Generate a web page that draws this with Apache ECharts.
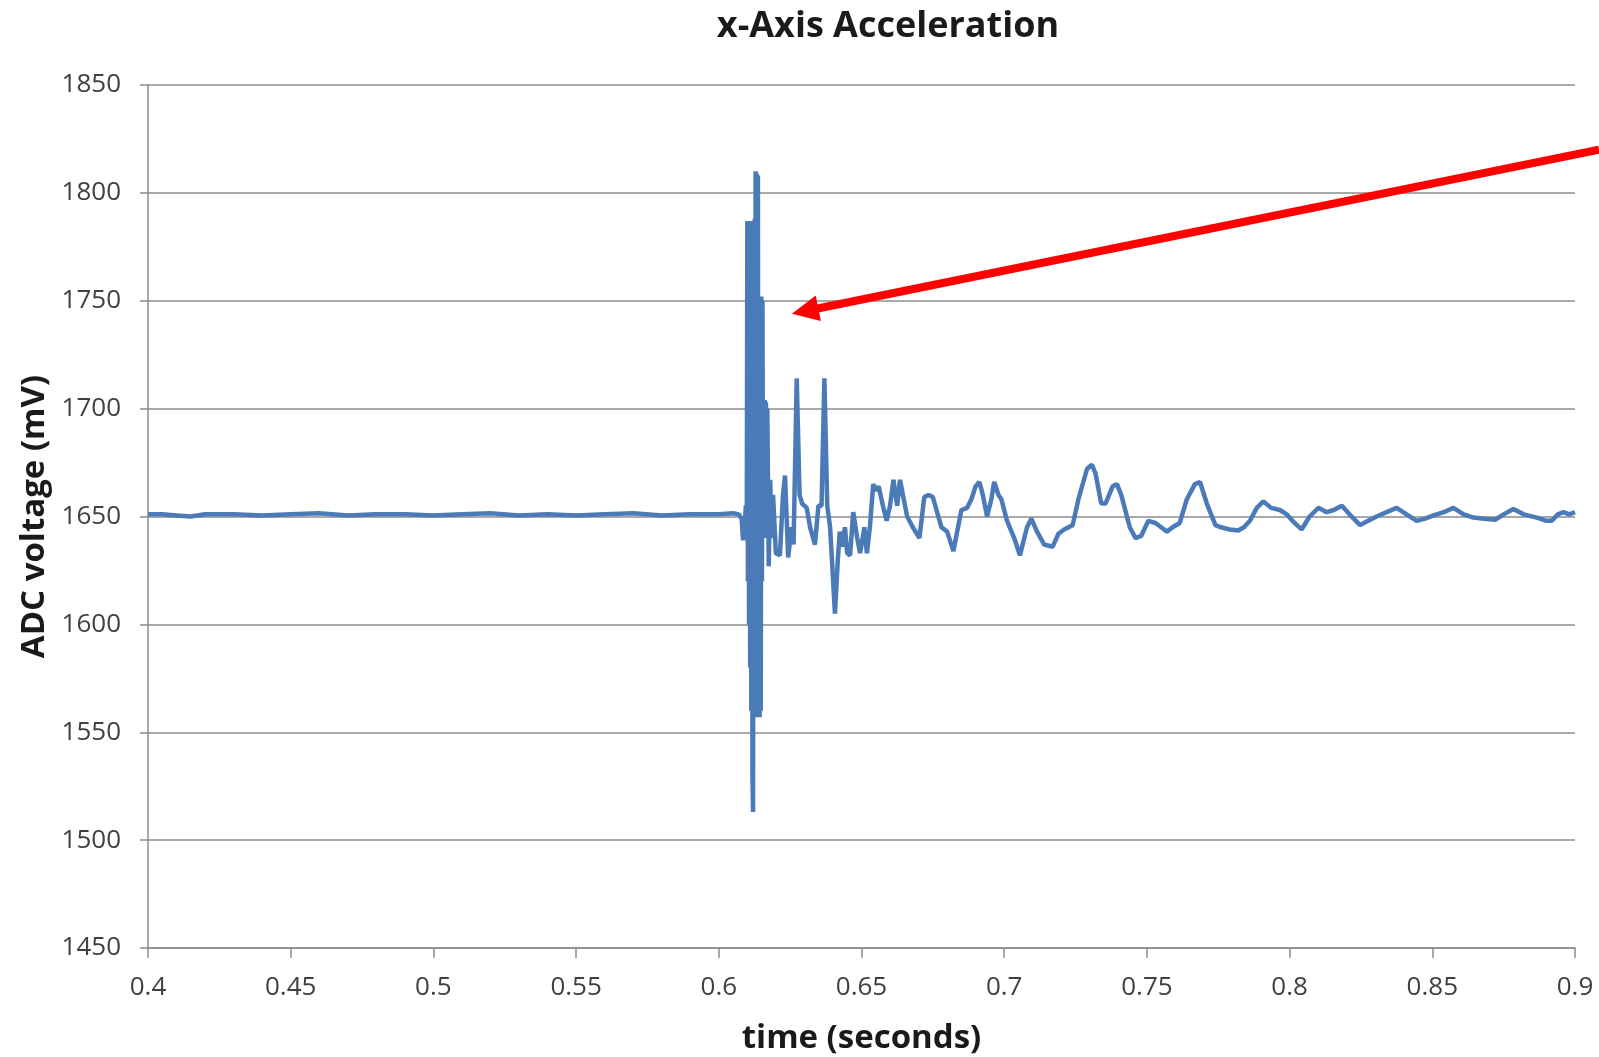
<!DOCTYPE html>
<html>
<head>
<meta charset="utf-8">
<title>x-Axis Acceleration</title>
<script src="https://cdn.jsdelivr.net/npm/echarts@6/dist/echarts.min.js"></script>
<style>
  html, body { margin: 0; padding: 0; background: #fff; }
  #main { width: 1599px; height: 1057px; }
</style>
</head>
<body>
<div id="main"></div>
<script>
// time (s) and ADC reading (mV)
var timeSec = [
    0.400, 0.405, 0.410, 0.415, 0.420, 0.430, 0.440, 0.450, 0.460, 0.470,
    0.480, 0.490, 0.500, 0.510, 0.520, 0.530, 0.540, 0.550, 0.560, 0.570,
    0.580, 0.590, 0.600, 0.605,
    // burst
    0.6070, 0.6080, 0.6085, 0.6090, 0.6095, 0.6098, 0.6100, 0.6102, 0.6104, 0.6106,
    0.6108, 0.6110, 0.6112, 0.6114, 0.6116, 0.6118, 0.6120, 0.6122, 0.6124, 0.6126,
    0.6128, 0.6129, 0.6131, 0.6133, 0.6135, 0.6137, 0.6139, 0.6141, 0.6143, 0.6145,
    0.6147, 0.6149, 0.6151, 0.6153, 0.6155, 0.6157, 0.6159, 0.6161, 0.6163, 0.6165,
    0.6167, 0.6170, 0.6175, 0.6180, 0.6185, 0.6190, 0.6200, 0.6214, 0.6225, 0.6232,
    0.6243, 0.6255, 0.6262, 0.6273, 0.6283, 0.6292, 0.6308, 0.6320, 0.6337, 0.6349,
    0.6360, 0.6370, 0.6380, 0.6390, 0.6407, 0.6417, 0.6424, 0.6432, 0.6442, 0.6450,
    0.6460, 0.6471,
    // ringing
    0.6485, 0.6495, 0.6510, 0.6519, 0.6530, 0.6541, 0.6552, 0.6560, 0.6575, 0.6588,
    0.6600, 0.6612, 0.6625, 0.6635, 0.6645, 0.6660, 0.6680, 0.6703, 0.6720, 0.6735,
    0.6750, 0.6780, 0.6800, 0.6822, 0.6850, 0.6870, 0.6885, 0.6900, 0.6913, 0.6925,
    0.6940, 0.6955, 0.6965, 0.6980, 0.6990, 0.7010, 0.7035, 0.7055, 0.7080, 0.7095,
    0.7115, 0.7140, 0.7170, 0.7190, 0.7210, 0.7240, 0.7260, 0.7290, 0.7307, 0.7320,
    0.7340, 0.7355, 0.7380, 0.7395, 0.7410, 0.7440, 0.7460, 0.7480, 0.7505, 0.7530,
    0.7550, 0.7570, 0.7590, 0.7615, 0.7640, 0.7668, 0.7686, 0.7710, 0.7740, 0.7760,
    0.7790, 0.7820, 0.7840, 0.7861, 0.7885, 0.7908, 0.7935, 0.7966, 0.7990, 0.8010,
    0.8042, 0.8070, 0.8101, 0.8130, 0.8155, 0.8183, 0.8210, 0.8247, 0.8275, 0.8305,
    0.8340, 0.8375, 0.8410, 0.8445, 0.8475, 0.8504, 0.8540, 0.8574, 0.8610, 0.8644,
    0.8680, 0.8720, 0.8750, 0.8784, 0.8820, 0.8866, 0.8900, 0.8918, 0.8940, 0.8959,
    0.8980, 0.9000
];
var adcMv = [
    1651, 1651, 1650.5, 1650, 1651, 1651, 1650.5, 1651, 1651.5, 1650.5,
    1651, 1651, 1650.5, 1651, 1651.5, 1650.5, 1651, 1650.5, 1651, 1651.5,
    1650.5, 1651, 1651, 1651.5,
    1651, 1649, 1639, 1645, 1655, 1640, 1787, 1620, 1786, 1600,
    1786, 1580, 1785, 1560, 1787, 1530, 1513, 1787, 1560, 1788,
    1560, 1810, 1558, 1809, 1557, 1808, 1557, 1752, 1557, 1752,
    1560, 1752, 1620, 1750, 1640, 1704, 1645, 1704, 1640, 1703,
    1640, 1700, 1627, 1667, 1640, 1660, 1633, 1632, 1660, 1669,
    1631, 1645, 1637, 1714, 1660, 1656, 1654, 1645, 1637, 1655,
    1655, 1714, 1655, 1645, 1605, 1630, 1643, 1636, 1645, 1633,
    1632, 1652,
    1640, 1633, 1645, 1633, 1646, 1665, 1662, 1664, 1655, 1648,
    1655, 1667, 1655, 1667, 1660, 1650, 1645, 1640, 1659, 1660,
    1659, 1645, 1643, 1634, 1653, 1654, 1658, 1664, 1666, 1660,
    1650, 1658, 1666, 1660, 1658, 1648, 1640, 1632, 1645, 1649,
    1643, 1637, 1636, 1642, 1644, 1646, 1658, 1672, 1674, 1670,
    1656, 1656, 1664, 1665, 1660, 1645, 1640, 1641, 1648, 1647,
    1645, 1643, 1645, 1647, 1658, 1665, 1666, 1656, 1646, 1645,
    1644, 1643.5, 1645, 1648, 1654, 1657, 1654, 1653, 1651, 1648,
    1644, 1650, 1654, 1652, 1653, 1655, 1651, 1646, 1648, 1650,
    1652, 1654, 1651, 1648, 1649, 1650.5, 1652, 1654, 1651, 1649.5,
    1649, 1648.5, 1651, 1653.5, 1651, 1649.5, 1648, 1648, 1651, 1652,
    1651, 1652
];

// red annotation arrow, in data coordinates (tail, tip)
var arrowTail = [0.9084, 1820];
var arrowTip = [0.6256, 1744];

var seriesData = [];
for (var i = 0; i < timeSec.length; i++) {
    seriesData.push([timeSec[i], adcMv[i]]);
}

var fontName = '"Open Sans", "Liberation Sans", sans-serif';
var gridColor = '#8c8c8c';

var myChart = echarts.init(document.getElementById('main'));

var option = {
    animation: false,
    backgroundColor: '#ffffff',
    title: {
        text: 'x-Axis Acceleration',
        left: 883,
        textAlign: 'center',
        top: 4,
        textStyle: {
            fontFamily: fontName,
            fontWeight: 'bold',
            fontSize: 36,
            color: '#1a1a1a'
        }
    },
    grid: {
        left: 148,
        right: 24,
        top: 85,
        bottom: 109,
        containLabel: false,
        outerBoundsMode: 'none'
    },
    xAxis: {
        type: 'value',
        min: 0.4,
        max: 0.9,
        interval: 0.05,
        name: 'time (seconds)',
        nameLocation: 'middle',
        nameGap: 74,
        nameTextStyle: {
            fontFamily: fontName,
            fontWeight: 'bold',
            fontSize: 33,
            color: '#1a1a1a'
        },
        axisLine: { show: true, lineStyle: { color: gridColor, width: 1.5 } },
        axisTick: { show: true, length: 10, lineStyle: { color: gridColor, width: 1.5 } },
        splitLine: { show: false },
        axisLabel: {
            margin: 27,
            fontFamily: fontName,
            fontSize: 26,
            color: '#404040',
            formatter: function (value) {
                return String(+value.toFixed(2));
            }
        }
    },
    yAxis: {
        type: 'value',
        min: 1450,
        max: 1850,
        interval: 50,
        name: 'ADC voltage (mV)',
        nameLocation: 'middle',
        nameGap: 95,
        nameTextStyle: {
            fontFamily: fontName,
            fontWeight: 'bold',
            fontSize: 33,
            color: '#1a1a1a'
        },
        axisLine: { show: true, lineStyle: { color: gridColor, width: 1.5 } },
        axisTick: { show: true, length: 8, lineStyle: { color: gridColor, width: 1.5 } },
        splitLine: { show: true, lineStyle: { color: gridColor, width: 1.5 } },
        axisLabel: {
            margin: 27,
            fontFamily: fontName,
            fontSize: 26,
            color: '#404040',
            formatter: function (value) {
                return String(value);
            }
        }
    },
    series: [{
        type: 'line',
        data: seriesData,
        showSymbol: false,
        sampling: 'none',
        clip: false,
        lineStyle: { color: '#4a7ab8', width: 4.5 }
    }]
};

myChart.setOption(option);

// arrow drawn from the two data points above
var p0 = myChart.convertToPixel({ gridIndex: 0 }, arrowTail);
var p1 = myChart.convertToPixel({ gridIndex: 0 }, arrowTip);
var dx = p1[0] - p0[0], dy = p1[1] - p0[1];
var len = Math.sqrt(dx * dx + dy * dy);
var ux = dx / len, uy = dy / len;
var nx = -uy, ny = ux;
var headLen = 27, headHalf = 13;
var bx = p1[0] - ux * headLen, by = p1[1] - uy * headLen;

myChart.setOption({
    graphic: [{
        type: 'line',
        z: 100,
        shape: { x1: p0[0], y1: p0[1], x2: bx + ux * 2, y2: by + uy * 2 },
        style: { stroke: '#ff0000', lineWidth: 8 }
    }, {
        type: 'polygon',
        z: 100,
        shape: {
            points: [
                [p1[0], p1[1]],
                [bx + nx * headHalf, by + ny * headHalf],
                [bx - nx * headHalf, by - ny * headHalf]
            ]
        },
        style: { fill: '#ff0000' }
    }]
});
</script>
</body>
</html>
